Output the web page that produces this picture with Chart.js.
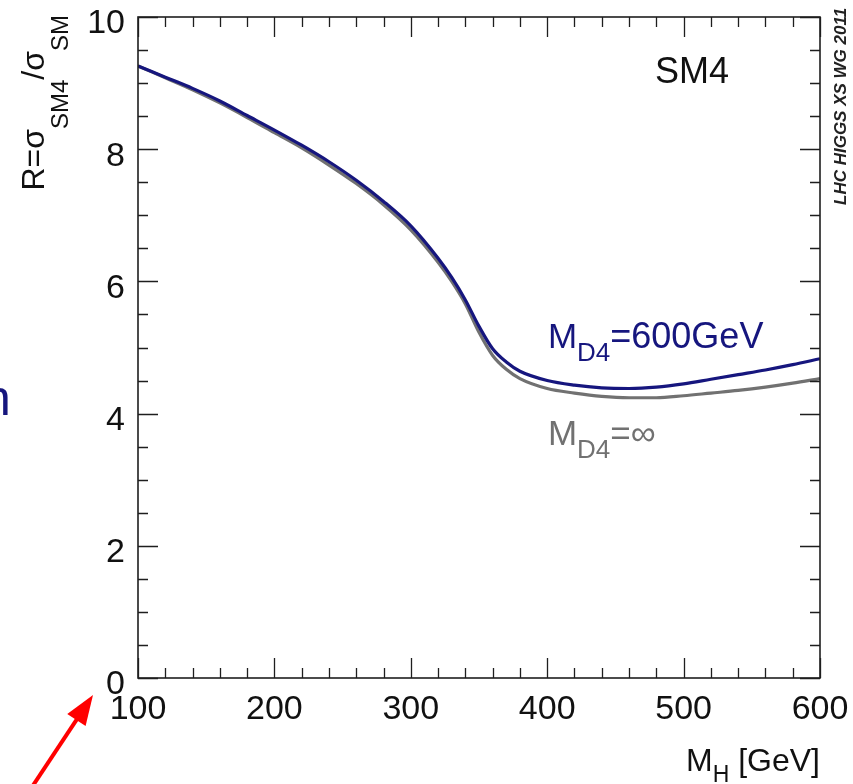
<!DOCTYPE html>
<html>
<head>
<meta charset="utf-8">
<script src="https://cdn.jsdelivr.net/npm/chart.js@4.4.1/dist/chart.umd.min.js"></script>
<style>
  html, body { margin: 0; padding: 0; background: #fff; }
  #wrap { width: 853px; height: 784px; position: relative; }
</style>
</head>
<body>
<div id="wrap"><canvas id="ratioChart"></canvas></div>
<script>
// Higgs mass [GeV]
const masses = [100, 120, 140, 160, 180, 200, 220, 240, 260, 280, 300, 320, 330, 340, 350, 360, 370, 380, 400, 420, 440, 460, 480, 500, 520, 540, 560, 580, 600];
// R = sigma(SM4)/sigma(SM), M_D4 = 600 GeV
const ratio_md600 = [9.26, 9.09, 8.92, 8.73, 8.51, 8.29, 8.06, 7.81, 7.53, 7.21, 6.84, 6.35, 6.06, 5.72, 5.32, 4.98, 4.78, 4.64, 4.50, 4.43, 4.39, 4.38, 4.40, 4.45, 4.52, 4.59, 4.66, 4.74, 4.83];
// R for M_D4 -> infinity
const ratio_mdinf = [9.26, 9.08, 8.90, 8.70, 8.48, 8.25, 8.02, 7.76, 7.48, 7.16, 6.78, 6.29, 6.00, 5.66, 5.23, 4.88, 4.67, 4.53, 4.38, 4.31, 4.26, 4.24, 4.24, 4.27, 4.31, 4.35, 4.40, 4.46, 4.53];
const x_ticks = [100, 200, 300, 400, 500, 600];
const y_ticks = [0, 2, 4, 6, 8, 10];

const FONT = '"Liberation Sans", Arial, sans-serif';
const BLUE = '#16167e';
const GREY = '#717171';

// draws text made of runs with their own size / vertical shift (for subscripts)
function richText(ctx, runs, x, y, color) {
  ctx.fillStyle = color;
  ctx.textBaseline = 'alphabetic';
  ctx.textAlign = 'left';
  let cx = x;
  for (const r of runs) {
    ctx.font = r.size + 'px ' + FONT;
    ctx.fillText(r.t, cx, y + (r.dy || 0));
    cx += ctx.measureText(r.t).width;
  }
  return cx - x;
}
function richWidth(ctx, runs) {
  let w = 0;
  for (const r of runs) { ctx.font = r.size + 'px ' + FONT; w += ctx.measureText(r.t).width; }
  return w;
}

const rootFrame = {
  id: 'rootFrame',
  afterDraw(chart) {
    const { ctx, chartArea: a, scales: { x, y } } = chart;
    ctx.save();

    // frame + inward ticks on all four sides
    ctx.strokeStyle = '#1e1e1e';
    ctx.lineWidth = 1.6;
    ctx.strokeRect(a.left, a.top, a.right - a.left, a.bottom - a.top);
    ctx.lineWidth = 1.3;
    ctx.beginPath();
    for (let v = x.min; v <= x.max + 1e-6; v += 20) {
      const px = Math.round(x.getPixelForValue(v)) + 0.5;
      const len = Math.abs(v % 100) < 1e-6 ? 20 : 10;
      ctx.moveTo(px, a.bottom); ctx.lineTo(px, a.bottom - len);
      ctx.moveTo(px, a.top); ctx.lineTo(px, a.top + len);
    }
    for (let v = y.min; v <= y.max + 1e-6; v += 0.5) {
      const py = Math.round(y.getPixelForValue(v)) + 0.5;
      const len = Math.abs(v % 2) < 1e-6 ? 20 : 10;
      ctx.moveTo(a.left, py); ctx.lineTo(a.left + len, py);
      ctx.moveTo(a.right, py); ctx.lineTo(a.right - len, py);
    }
    ctx.stroke();

    // labels inside the frame
    richText(ctx, [{ t: 'SM4', size: 36 }], x.getPixelForValue(479), y.getPixelForValue(9.0), '#111');
    richText(ctx, [{ t: 'M', size: 35 }, { t: 'D4', size: 26, dy: 13 }, { t: '=600GeV', size: 36 }],
      x.getPixelForValue(400.5), y.getPixelForValue(5.0), BLUE);
    richText(ctx, [{ t: 'M', size: 35 }, { t: 'D4', size: 26, dy: 13 }, { t: '=\u221E', size: 35 }],
      x.getPixelForValue(400.5), y.getPixelForValue(3.52), GREY);

    // x axis title, right aligned to the frame
    const xt = [{ t: 'M', size: 32 }, { t: 'H', size: 23, dy: 11 }, { t: ' [GeV]', size: 32 }];
    richText(ctx, xt, a.right - richWidth(ctx, xt), 771, '#111');

    // y axis title, rotated, ending at the top of the frame
    const yt = [{ t: 'R=\u03C3', size: 32 }, { t: 'SM4', size: 24, dy: 24 }, { t: '/\u03C3', size: 32 }, { t: 'SM', size: 24, dy: 24 }];
    ctx.save();
    ctx.translate(44, a.top - 2 + richWidth(ctx, yt));
    ctx.rotate(-Math.PI / 2);
    richText(ctx, yt, 0, 0, '#111');
    ctx.restore();

    // working group stamp
    ctx.save();
    ctx.translate(846, 205);
    ctx.rotate(-Math.PI / 2);
    ctx.font = 'italic bold 17px ' + FONT;
    ctx.fillStyle = '#222';
    ctx.fillText('LHC HIGGS XS WG 2011', 0, 0);
    ctx.restore();

    // stray letter at the left edge
    ctx.font = '50px ' + FONT;
    ctx.fillStyle = BLUE;
    ctx.fillText('n', -17, 415);

    // red arrow pointing at the origin
    const ox = x.getPixelForValue(100), oy = y.getPixelForValue(0);
    const tip = [ox - 45, oy + 17], tail = [ox - 108, oy + 112];
    const dx = tip[0] - tail[0], dy = tip[1] - tail[1], n = Math.hypot(dx, dy);
    const ux = dx / n, uy = dy / n;
    const bx = tip[0] - ux * 30, by = tip[1] - uy * 30;
    ctx.strokeStyle = '#ff0000';
    ctx.fillStyle = '#ff0000';
    ctx.lineWidth = 4;
    ctx.beginPath();
    ctx.moveTo(tail[0], tail[1]); ctx.lineTo(bx + ux * 4, by + uy * 4);
    ctx.stroke();
    ctx.beginPath();
    ctx.moveTo(tip[0], tip[1]);
    ctx.lineTo(bx - uy * 11, by + ux * 11);
    ctx.lineTo(bx + uy * 11, by - ux * 11);
    ctx.closePath();
    ctx.fill();

    ctx.restore();
  }
};

new Chart(document.getElementById('ratioChart'), {
  type: 'line',
  data: {
    datasets: [
      {
        label: 'M_D4=600GeV',
        data: masses.map((m, i) => ({ x: m, y: ratio_md600[i] })),
        borderColor: BLUE,
        borderWidth: 3.2,
        pointRadius: 0,
        cubicInterpolationMode: 'monotone'
      },
      {
        label: 'M_D4=inf',
        data: masses.map((m, i) => ({ x: m, y: ratio_mdinf[i] })),
        borderColor: GREY,
        borderWidth: 3.2,
        pointRadius: 0,
        cubicInterpolationMode: 'monotone'
      }
    ]
  },
  options: {
    responsive: true,
    maintainAspectRatio: false,
    animation: false,
    layout: { padding: { left: 0, top: 17, right: 33, bottom: 0 } },
    plugins: { legend: { display: false }, tooltip: { enabled: false } },
    scales: {
      x: {
        type: 'linear',
        min: 100,
        max: 600,
        grid: { display: false },
        border: { display: false },
        afterBuildTicks: s => { s.ticks = x_ticks.map(v => ({ value: v })); },
        afterFit: s => { s.height = 106; s.paddingLeft = 0; s.paddingRight = 0; },
        ticks: { padding: 3, maxRotation: 0, autoSkip: false, color: '#111', font: { family: FONT, size: 34 } }
      },
      y: {
        type: 'linear',
        min: 0,
        max: 10,
        grid: { display: false },
        border: { display: false },
        afterBuildTicks: s => { s.ticks = y_ticks.map(v => ({ value: v })); },
        afterFit: s => { s.width = 138; s.paddingTop = 0; s.paddingBottom = 0; },
        ticks: { padding: 5, labelOffset: 7, autoSkip: false, color: '#111', font: { family: FONT, size: 34 } }
      }
    }
  },
  plugins: [rootFrame]
});
</script>
</body>
</html>
